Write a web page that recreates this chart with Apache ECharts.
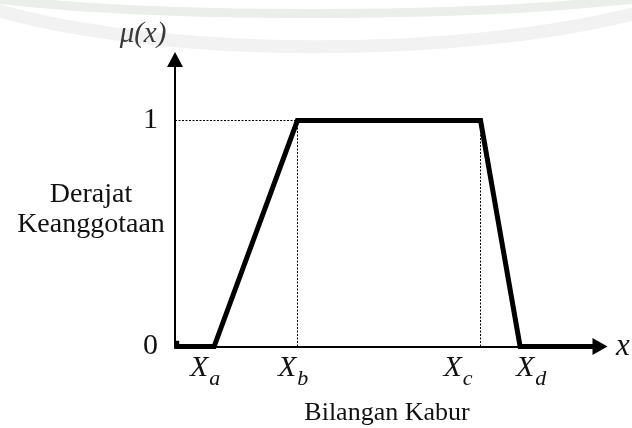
<!DOCTYPE html>
<html>
<head>
<meta charset="utf-8">
<script src="https://cdn.jsdelivr.net/npm/echarts@6/dist/echarts.min.js"></script>
<style>
  html, body { margin: 0; padding: 0; background: #fff; }
  #chart { width: 632px; height: 428px; }
</style>
</head>
<body>
<div id="chart"></div>
<script>
// Trapezoidal membership function μ(x) over an abstract universe 0–100.
const xPoints = [0.4, 0.4, 9.2, 28.8, 71.9, 81.2, 98.8];
const muValues = [0.025, 0, 0, 1, 1, 0, 0];

// Dotted guides at the shoulders Xb and Xc.
const guideAt = [28.8, 71.9];

// Subscripted tick labels on the x axis and where they sit.
const tickSubscripts = ['a', 'b', 'c', 'd'];
const tickLabelAt = [7.1, 27.8, 66.6, 83.8];

// Membership grades shown on the y axis.
const yTickValues = [0, 1];

const serif = '"Liberation Serif", "Times New Roman", serif';

const chart = echarts.init(document.getElementById('chart'), null, { renderer: 'canvas' });

const lineData = xPoints.map((x, i) => [x, muValues[i]]);

chart.setOption({
  animation: false,
  backgroundColor: '#fff',
  grid: {
    left: 175, right: 32, top: 59.5, bottom: 81.5,
    containLabel: false,
    outerBoundsMode: 'none'
  },
  xAxis: {
    type: 'value',
    min: 0, max: 100,
    name: 'x',
    nameLocation: 'end',
    nameGap: 16,
    nameTextStyle: {
      fontFamily: serif, fontStyle: 'italic', fontSize: 31, color: '#111',
      verticalAlign: 'middle', padding: [0, 0, 6, 0]
    },
    axisLine: {
      show: true,
      symbol: ['none', 'triangle'],
      symbolSize: [17, 15],
      lineStyle: { color: '#000', width: 2 }
    },
    axisTick: { show: false },
    splitLine: { show: false },
    axisLabel: {
      customValues: tickLabelAt,
      margin: 7,
      formatter: function (value) {
        const i = tickLabelAt.indexOf(value);
        return i < 0 ? '' : '{x|X}{s|' + tickSubscripts[i] + '}';
      },
      rich: {
        x: { fontFamily: serif, fontStyle: 'italic', fontSize: 30, color: '#111', verticalAlign: 'bottom', padding: [0, 1, 7, 0] },
        s: { fontFamily: serif, fontStyle: 'italic', fontSize: 22, color: '#111', verticalAlign: 'bottom' }
      }
    }
  },
  yAxis: {
    type: 'value',
    min: 0, max: 1.27,
    interval: 1,
    name: 'μ(x)',
    nameLocation: 'end',
    nameGap: 11,
    nameTextStyle: {
      fontFamily: serif, fontStyle: 'italic', fontSize: 29, color: '#3a3a3a',
      align: 'center', padding: [0, 64, 0, 0]
    },
    axisLine: {
      show: true,
      symbol: ['none', 'triangle'],
      symbolSize: [16, 15],
      lineStyle: { color: '#000', width: 2 }
    },
    axisTick: { show: false },
    splitLine: { show: false },
    axisLabel: {
      showMaxLabel: false,
      margin: 17,
      fontFamily: serif, fontSize: 30, color: '#111',
      formatter: function (value) {
        return yTickValues.indexOf(value) >= 0 ? String(value) : '';
      }
    }
  },
  graphic: [
    // faint arcs of the page background band
    {
      type: 'bezierCurve', silent: true, z: -10,
      shape: { x1: -20, y1: -3, x2: 652, y2: -3, cpx1: 150, cpy1: 19, cpx2: 470, cpy2: 19 },
      style: { stroke: '#ebeeeb', lineWidth: 9, fill: null }
    },
    {
      type: 'bezierCurve', silent: true, z: -10,
      shape: { x1: -20, y1: 5, x2: 652, y2: 9, cpx1: 150, cpy1: 60, cpx2: 470, cpy2: 60 },
      style: { stroke: '#f2f2f2', lineWidth: 13, fill: null }
    },
    {
      type: 'text', silent: true,
      x: 91, y: 210,
      style: {
        text: 'Derajat\nKeanggotaan',
        fontFamily: serif, fontSize: 28, lineHeight: 30, fill: '#111',
        align: 'center', verticalAlign: 'middle'
      }
    },
    {
      type: 'text', silent: true,
      x: 387, y: 413,
      style: {
        text: 'Bilangan Kabur',
        fontFamily: serif, fontSize: 26, fill: '#111',
        align: 'center', verticalAlign: 'middle'
      }
    }
  ],
  series: [
    {
      type: 'line',
      data: lineData,
      showSymbol: false,
      symbol: 'none',
      silent: true,
      lineStyle: { color: '#000', width: 5, join: 'miter', cap: 'butt' },
      z: 5,
      markLine: {
        silent: true,
        symbol: ['none', 'none'],
        label: { show: false },
        lineStyle: { color: '#000', width: 1, type: [2, 1.5] },
        emphasis: { disabled: true },
        data: [
          [{ coord: [0, 1] }, { coord: [guideAt[0], 1] }],
          [{ coord: [guideAt[0], 0] }, { coord: [guideAt[0], 1] }],
          [{ coord: [guideAt[1], 0] }, { coord: [guideAt[1], 1] }]
        ]
      }
    }
  ]
});
</script>
</body>
</html>
